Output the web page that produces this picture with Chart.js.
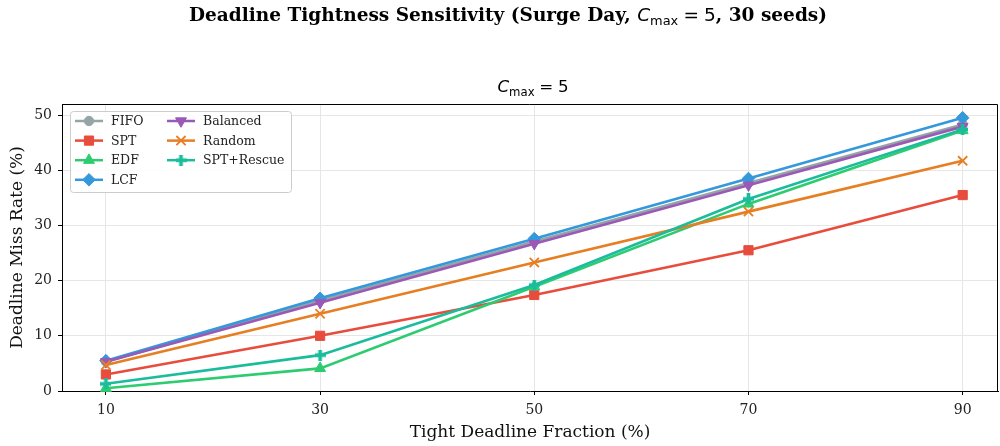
<!DOCTYPE html>
<html>
<head>
<meta charset="utf-8">
<script src="https://cdn.jsdelivr.net/npm/chart.js@4.4.1/dist/chart.umd.min.js"></script>
<style>html,body{margin:0;padding:0;background:#fff}</style>
</head>
<body>
<canvas id="deadlineChart" width="1000" height="446"></canvas>
<script>
// tight deadline fraction (%)
const fractions = [10, 30, 50, 70, 90];
const xTicks = [10, 30, 50, 70, 90];
const yTicks = [0, 10, 20, 30, 40, 50];

// deadline miss rate (%) per policy
const fifo = [5.3, 16.4, 27.1, 37.7, 48.3];
const spt = [3.0, 10.0, 17.4, 25.5, 35.5];
const edf = [0.5, 4.1, 18.9, 33.9, 47.2];
const lcf = [5.5, 16.8, 27.6, 38.5, 49.5];
const balanced = [5.3, 16.0, 26.7, 37.3, 47.9];
const random = [4.7, 14.0, 23.3, 32.5, 41.7];
const sptRescue = [1.3, 6.5, 19.2, 34.8, 47.4];

const serif = '"DejaVu Serif", serif';
const sans = '"DejaVu Sans", sans-serif';

function plusMarker(color, s) {
    const c = document.createElement('canvas');
    c.width = s; c.height = s;
    const g = c.getContext('2d');
    const t = s / 3;
    g.fillStyle = color;
    g.fillRect(t, 0, t, s);
    g.fillRect(0, t, s, t);
    return c;
}

const series = [
    { label: 'FIFO', data: fifo, color: '#95a5a6', style: 'circle', radius: 4.7 },
    { label: 'SPT', data: spt, color: '#e74c3c', style: 'rect', radius: 6.5 },
    { label: 'EDF', data: edf, color: '#2ecc71', style: 'triangle', radius: 6.3 },
    { label: 'LCF', data: lcf, color: '#3498db', style: 'rectRot', radius: 6.3 },
    { label: 'Balanced', data: balanced, color: '#9b59b6', style: 'triangle', radius: 6.3, rotation: 180 },
    { label: 'Random', data: random, color: '#e67e22', style: 'crossRot', radius: 6.5 },
    { label: 'SPT+Rescue', data: sptRescue, color: '#1abc9c', style: plusMarker('#1abc9c', 11), radius: 5.5 }
];

// text made of several font runs; gap = extra space around a run
function drawRuns(ctx, runs, cx, y) {
    let total = 0;
    runs.forEach(r => { ctx.font = r.font; total += ctx.measureText(r.text).width + (r.gap || 0) * 2; });
    let x = cx - total / 2;
    ctx.textAlign = 'left';
    ctx.textBaseline = 'alphabetic';
    runs.forEach(r => {
        ctx.font = r.font;
        x += r.gap || 0;
        ctx.fillText(r.text, x, y + (r.dy || 0));
        x += ctx.measureText(r.text).width + (r.gap || 0);
    });
}

function cmaxRuns(size) {
    return [
        { text: 'C', font: 'italic ' + size + 'px ' + sans },
        { text: 'max', font: (size * 0.7) + 'px ' + sans, dy: size * 0.22 },
        { text: '=', font: size + 'px ' + sans, gap: size * 0.28 },
        { text: '5', font: size + 'px ' + sans }
    ];
}

const decorations = {
    id: 'decorations',
    afterDraw(chart) {
        const ctx = chart.ctx;
        const a = chart.chartArea;
        ctx.save();
        ctx.fillStyle = '#000';

        const t = 18.5;
        drawRuns(ctx, [{ text: 'Deadline Tightness Sensitivity (Surge Day, ', font: 'bold ' + t + 'px ' + serif }]
            .concat(cmaxRuns(t))
            .concat([{ text: ', 30 seeds)', font: 'bold ' + t + 'px ' + serif }]), 508, 21);

        drawRuns(ctx, cmaxRuns(16.7), 533, 92);

        // top and right spines
        ctx.strokeStyle = '#000';
        ctx.lineWidth = 1;
        ctx.beginPath();
        ctx.moveTo(a.left, a.top + 0.5);
        ctx.lineTo(a.right - 0.5, a.top + 0.5);
        ctx.lineTo(a.right - 0.5, a.bottom);
        ctx.stroke();

        // legend
        const bx = 70, by = 111, bw = 221, bh = 81;
        ctx.fillStyle = 'rgba(255,255,255,0.85)';
        ctx.strokeStyle = '#cccccc';
        ctx.lineWidth = 1;
        ctx.beginPath();
        ctx.roundRect(bx + 0.5, by + 0.5, bw, bh, 3);
        ctx.fill();
        ctx.stroke();
        ctx.font = '12.5px ' + serif;
        ctx.textBaseline = 'middle';
        ctx.textAlign = 'left';
        chart.data.datasets.forEach((ds, i) => {
            const col = i < 4 ? 0 : 1;
            const row = i < 4 ? i : i - 4;
            const lx = col === 0 ? 75 : 167;
            const ly = 121 + row * 19.6;
            ctx.strokeStyle = ds.borderColor;
            ctx.lineWidth = 2.5;
            ctx.beginPath();
            ctx.moveTo(lx, ly);
            ctx.lineTo(lx + 28, ly);
            ctx.stroke();
            ctx.fillStyle = ds.pointBackgroundColor;
            ctx.strokeStyle = ds.pointBorderColor;
            ctx.lineWidth = ds.pointBorderWidth;
            Chart.helpers.drawPoint(ctx, {
                pointStyle: ds.pointStyle,
                rotation: ds.pointRotation || 0,
                radius: ds.pointRadius,
                borderWidth: ds.pointBorderWidth
            }, lx + 14, ly);
            ctx.fillStyle = '#222';
            ctx.fillText(ds.label, lx + 36, ly + 1);
        });
        ctx.restore();
    }
};

new Chart(document.getElementById('deadlineChart'), {
    type: 'line',
    data: {
        datasets: series.map((s, i) => ({
            label: s.label,
            data: s.data.map((v, k) => ({ x: fractions[k], y: v })),
            borderColor: s.color,
            backgroundColor: s.color,
            pointBackgroundColor: s.color,
            pointBorderColor: s.color,
            pointBorderWidth: s.style === 'crossRot' ? 1.8 : 1,
            pointStyle: s.style,
            pointRotation: s.rotation || 0,
            pointRadius: s.radius,
            borderWidth: 2.6,
            tension: 0,
            clip: false,
            order: series.length - i
        }))
    },
    options: {
        responsive: false,
        animation: false,
        layout: { autoPadding: false, padding: { top: 104, right: 2, left: 0, bottom: 0 } },
        plugins: {
            legend: { display: false },
            tooltip: { enabled: false }
        },
        scales: {
            x: {
                type: 'linear',
                min: 5.9,
                max: 93.3,
                afterBuildTicks(scale) {
                    scale.ticks = xTicks.map(v => ({ value: v }));
                },
                afterFit(scale) {
                    scale.height = 55;
                    scale.paddingLeft = 0;
                    scale.paddingRight = 0;
                },
                grid: { color: '#e6e6e6', tickColor: '#000', tickLength: 4 },
                border: { color: '#000', width: 1 },
                ticks: { color: '#222', font: { family: serif, size: 14 }, padding: 7 },
                title: {
                    display: true,
                    text: 'Tight Deadline Fraction (%)',
                    color: '#111',
                    font: { family: serif, size: 17 },
                    padding: { top: 0, bottom: 3 }
                }
            },
            y: {
                min: 0,
                max: 52,
                afterBuildTicks(scale) {
                    scale.ticks = yTicks.map(v => ({ value: v }));
                },
                afterFit(scale) {
                    scale.width = 62;
                    scale.paddingTop = 0;
                    scale.paddingBottom = 0;
                },
                grid: { color: '#e6e6e6', tickColor: '#000', tickLength: 4 },
                border: { color: '#000', width: 1 },
                ticks: { color: '#222', font: { family: serif, size: 14 }, padding: 6 },
                title: {
                    display: true,
                    text: 'Deadline Miss Rate (%)',
                    color: '#111',
                    font: { family: serif, size: 17 },
                    padding: { top: 7, bottom: 0 }
                }
            }
        }
    },
    plugins: [decorations]
});
</script>
</body>
</html>
